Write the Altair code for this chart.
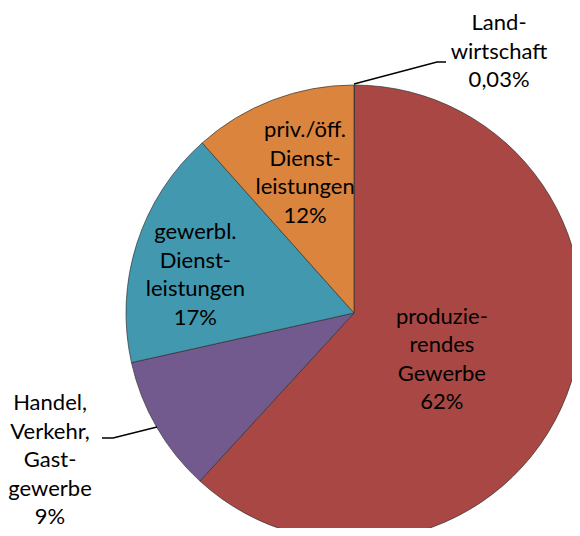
import altair as alt
import pandas as pd
import math

# --- data ---
sectors = ["Landwirtschaft", "produzierendes Gewerbe", "Handel, Verkehr, Gastgewerbe",
           "gewerbl. Dienstleistungen", "priv./öff. Dienstleistungen"]
shares = [0.03, 61.8, 9.7, 16.9, 11.6]
labels = ["Land-\nwirtschaft\n0,03%",
          "produzie-\nrendes\nGewerbe\n62%",
          "Handel,\nVerkehr,\nGast-\ngewerbe\n9%",
          "gewerbl.\nDienst-\nleistungen\n17%",
          "priv./öff.\nDienst-\nleistungen\n12%"]
colors = ["#4A7EBB", "#A94744", "#725A8E", "#4198AF", "#DB843D"]

# --- layout: first-line anchor of each label in polar form
# (degrees clockwise from top, pixel radius from the pie centre) ---
label_deg = [26.6, 92.6, 253.5, 297.0, 345.0]
label_rad = [324, 88, 317, 178, 189]
CX, CY, R = 346, 305, 228

# leader lines (pixel layout)
leader_id = ["land", "land", "land", "handel", "handel", "handel"]
leader_step = [0, 1, 2, 0, 1, 2]
leader_x = [346, 429, 438, 149, 105, 94]
leader_y = [76, 54, 54, 419, 430, 430]

df = pd.DataFrame({
    "sector": sectors,
    "share": shares,
    "label": labels,
    "idx": list(range(len(sectors))),
    "lab_theta": [math.radians(d) for d in label_deg],
    "lab_r": label_rad,
})
lead = pd.DataFrame({"leader": leader_id, "step": leader_step, "lx": leader_x, "ly": leader_y})

arcs = alt.Chart(df).mark_arc(radius=R, stroke="#333333", strokeWidth=0.7).encode(
    theta=alt.Theta("share:Q", stack=True),
    color=alt.Color("sector:N", scale=alt.Scale(domain=sectors, range=colors), legend=None),
    order=alt.Order("idx:Q"),
    x=alt.value(CX),
    y=alt.value(CY),
)

texts = alt.Chart(df).mark_text(
    font="Lato", fontSize=22, lineBreak="\n", lineHeight=28.5,
    align="center", baseline="middle", color="black"
).encode(
    text="label:N",
    theta=alt.Theta("lab_theta:Q", scale=None, stack=False),
    radius=alt.Radius("lab_r:Q", scale=None),
    x=alt.value(CX),
    y=alt.value(CY),
)

leaders = alt.Chart(lead).mark_line(color="black", strokeWidth=1.3).encode(
    x=alt.X("lx:Q", scale=None, axis=None),
    y=alt.Y("ly:Q", scale=None, axis=None),
    detail="leader:N",
    order="step:Q",
)

chart = alt.layer(arcs, leaders, texts).resolve_scale(
    theta="independent", radius="independent"
).properties(
    width=564, height=520, padding=0, autosize="none", background="white"
).configure_view(stroke=None)

chart.save("out.html", embed_options={"renderer": "svg", "actions": False})
